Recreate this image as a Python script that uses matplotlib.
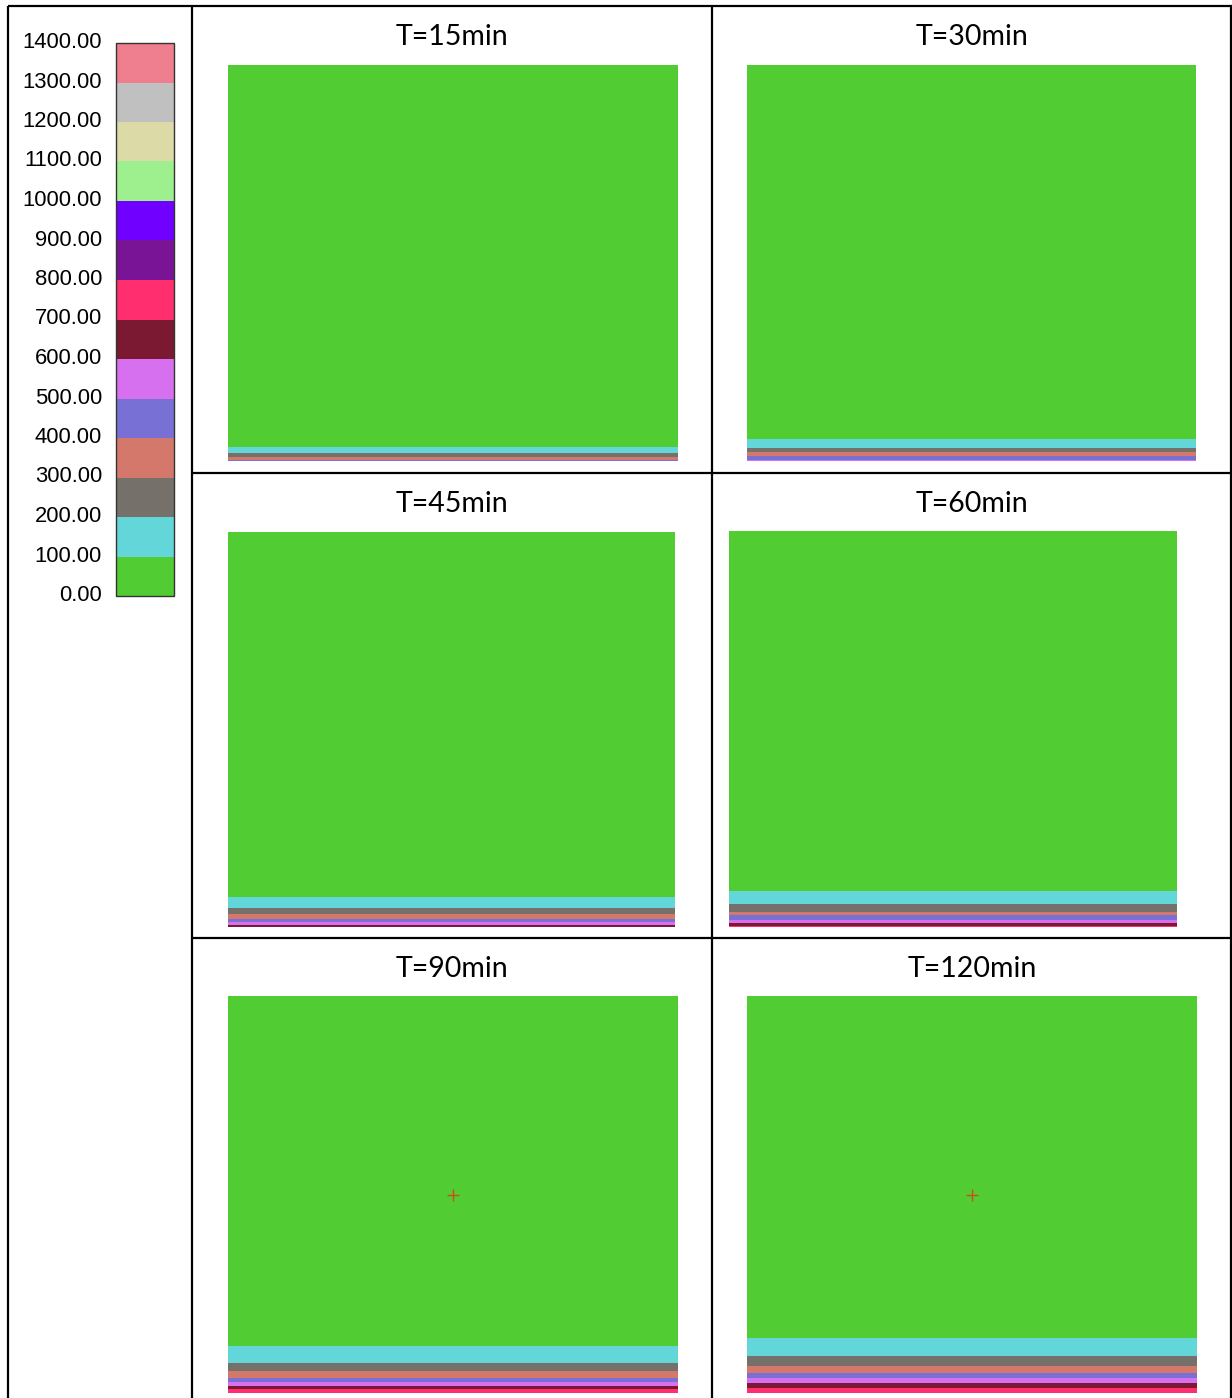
import matplotlib
matplotlib.use("Agg")
import matplotlib.pyplot as plt
from matplotlib.colors import ListedColormap, BoundaryNorm
from matplotlib.lines import Line2D
from matplotlib.transforms import ScaledTranslation
import matplotlib as mpl
import numpy as np

# ---------------- data ----------------
levels = [0, 100, 200, 300, 400, 500, 600, 700, 800, 900, 1000, 1100, 1200, 1300, 1400]
level_labels = ["%.2f" % v for v in levels]
band_colors = ["#52cc33", "#62d6d9", "#75716a", "#d4786b", "#7870d4", "#d670ee",
               "#7b1832", "#ff2e6e", "#7a1496", "#7000ff", "#9ef08e", "#dcdba8",
               "#c0c0c0", "#ef7f8f"]

titles = ["T=15min", "T=30min", "T=45min", "T=60min", "T=90min", "T=120min"]
section_height = 396  # total height of the section (display units)
# thickness of heated bands measured from the top of the heated zone downwards:
# order: 100-200, 200-300, 300-400, 400-500, 500-600, 600-700, 700-800
band_t15 = [6, 4, 3, 1, 0, 0, 0]
band_t30 = [9, 4, 4, 4, 1, 0, 0]
band_t45 = [11, 6, 5, 3, 3, 2, 0]
band_t60 = [13, 8, 3, 5, 3, 3, 1]
band_t90 = [17, 8, 7, 4, 4, 3, 4]
band_t120 = [18, 10, 7, 5, 5, 5, 5]
bands = [band_t15, band_t30, band_t45, band_t60, band_t90, band_t120]
show_marker = [False, False, False, False, True, True]

# ---------------- layout ----------------
W, H = 1232, 1398
fig = plt.figure(figsize=(W / 100, H / 100), dpi=100)
fig.patch.set_facecolor("white")

def px_axes(x0, y0, x1, y1):
    return fig.add_axes([x0 / W, 1 - y1 / H, (x1 - x0) / W, (y1 - y0) / H])

def hline(y, x0, x1, lw=1.6):
    fig.add_artist(Line2D([x0 / W, x1 / W], [1 - y / H, 1 - y / H], color="black",
                          lw=lw, transform=fig.transFigure, solid_capstyle="butt"))

def vline(x, y0, y1, lw=1.6):
    fig.add_artist(Line2D([x / W, x / W], [1 - y0 / H, 1 - y1 / H], color="black",
                          lw=lw, transform=fig.transFigure, solid_capstyle="butt"))

# table grid
hline(6, 8, 1232)
vline(8, 6, 1398)
vline(192, 6, 1398)
vline(712, 6, 1398)
vline(1231, 6, 1398)
hline(473, 192, 1232)
hline(938, 192, 1232)

panel_boxes = [(228, 65, 678, 461), (747, 65, 1196, 461),
               (228, 532, 675, 927), (729, 531, 1177, 927),
               (228, 996, 678, 1393), (747, 996, 1197, 1393)]
title_pos = [(452, 37), (972, 37), (452, 504), (972, 504), (452, 969), (972, 969)]

title_font = ["Lato", "DejaVu Sans"]

for i in range(6):
    ax = px_axes(*panel_boxes[i])
    thick = bands[i][::-1]  # hottest band at the bottom
    cols = band_colors[1:8][::-1]
    bottom = 0
    for t, c in zip(thick, cols):
        if t > 0:
            ax.bar(0.5, t, bottom=bottom, width=1.0, color=c, linewidth=0)
        bottom += t
    ax.bar(0.5, section_height - bottom, bottom=bottom, width=1.0,
           color=band_colors[0], linewidth=0)
    if show_marker[i]:
        ax.plot(0.5, section_height / 2, marker="+", color="#d04a20", ms=9, mew=1.0)
    ax.set_xlim(0, 1)
    ax.set_ylim(0, section_height)
    ax.axis("off")
    tx, ty = title_pos[i]
    fig.text(tx / W, 1 - ty / H, titles[i], ha="center", va="center",
             fontsize=20.5, family=title_font, color="black")

# colorbar legend
cax = px_axes(116, 43, 174, 596)
cmap = ListedColormap(band_colors)
norm = BoundaryNorm(levels, cmap.N)
cb = mpl.colorbar.ColorbarBase(cax, cmap=cmap, norm=norm, orientation="vertical")
cb.set_ticks(levels, labels=level_labels)
cb.outline.set_edgecolor("#333333")
cb.outline.set_linewidth(1.0)
cax.yaxis.set_ticks_position("left")
cax.tick_params(axis="y", length=0, pad=10, labelsize=15.8)
fig.canvas.draw()
for lab in cax.get_yticklabels():
    lab.set_fontfamily(["Liberation Sans", "DejaVu Sans"])
    lab.set_transform(lab.get_transform() + ScaledTranslation(0, 3 / 100, fig.dpi_scale_trans))

fig.savefig("out.png", dpi=100, facecolor="white")
